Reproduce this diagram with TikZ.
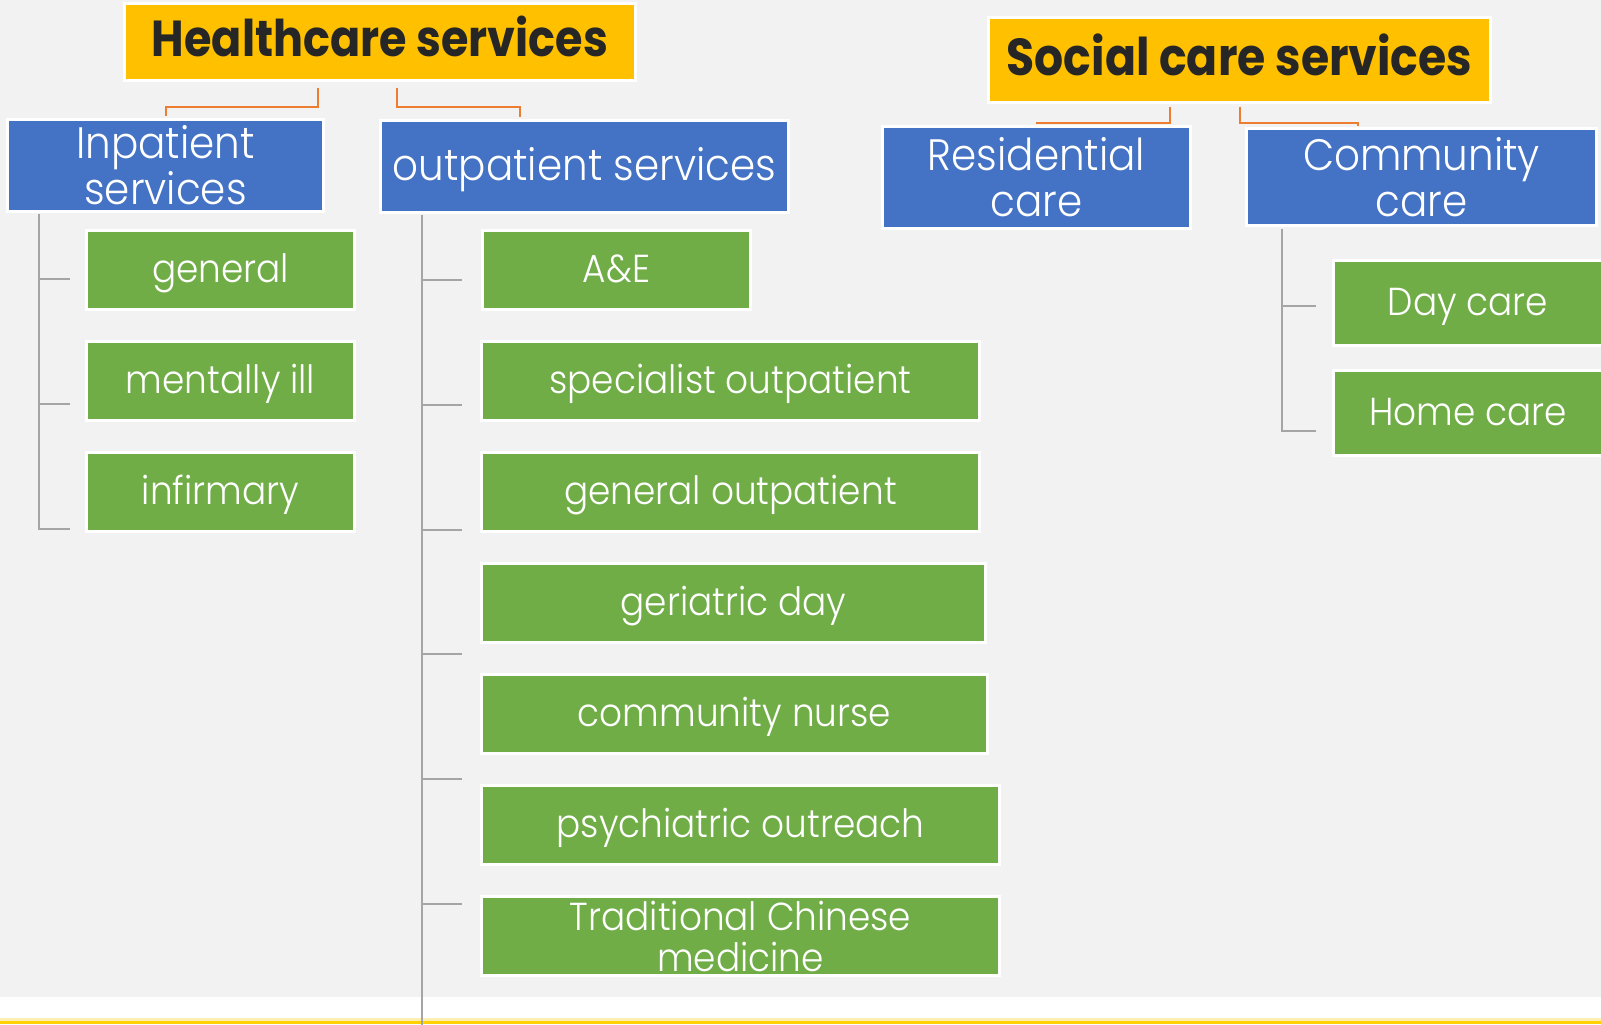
\documentclass[tikz,border=0pt]{standalone}
\usepackage{fontspec}
\setmainfont{Poppins Light}[FakeStretch=0.92]
\newfontfamily\titlefont{Poppins}[FakeStretch=0.88]
\usetikzlibrary{calc}
\definecolor{bgc}{HTML}{F2F2F2}
\definecolor{yelbox}{HTML}{FFC000}
\definecolor{bluebox}{HTML}{4472C4}
\definecolor{greenbox}{HTML}{70AD47}
\definecolor{orc}{HTML}{ED7D31}
\definecolor{gryc}{HTML}{A5A5A5}
\definecolor{darktext}{HTML}{262626}
\definecolor{bandyel}{HTML}{FFD200}
\definecolor{paleyel}{HTML}{FFEFB0}
\tikzset{
  wh/.style 2 args={minimum width=#1*0.5pt+1.5pt, minimum height=#2*0.5pt+1.5pt},
  basebox/.style={draw=white, line width=1.5pt, inner sep=0pt, outer sep=0pt, align=center, text=white},
  titlebox/.style={basebox, fill=yelbox, text=darktext},
  bluenode/.style={basebox, fill=bluebox, font=\fontsize{22}{23}\selectfont},
  greennode/.style={basebox, fill=greenbox, font=\fontsize{19.5}{20.5}\selectfont},
  oneline/.style={text height=#1, text depth=2pt},
  orline/.style={draw=orc, line width=1pt},
  gline/.style={draw=gryc, line width=1pt},
}
\begin{document}
\begin{tikzpicture}[x=0.5pt,y=-0.5pt]
\fill[bgc] (0,0) rectangle (1601,997);
\fill[white] (0,997) rectangle (1601,1018);
\fill[paleyel] (0,1018) rectangle (1601,1020.5);
\fill[bandyel] (0,1020.5) rectangle (1601,1024);
\useasboundingbox (0,0) rectangle (1601,1024);

% titles
\node[titlebox, wh={508}{74}, oneline=16.5pt, font=\titlefont\bfseries\fontsize{25.3}{27}\selectfont] (hc) at (380,42) {Healthcare services};
\node[titlebox, wh={499}{82}, oneline=17.5pt, font=\titlefont\bfseries\fontsize{26}{28}\selectfont] (sc) at (1239.5,60) {Social care services};

% second level
\node[bluenode, wh={313}{89}] (inp) at (165.5,165.5) {Inpatient\\services};
\node[bluenode, wh={405}{89}, oneline=15.5pt] (outp) at (584.5,166.5) {outpatient services};
\node[bluenode, wh={305}{99}] (res) at (1036.5,177.5) {Residential\\care};
\node[bluenode, wh={347}{94}] (com) at (1421.5,177) {Community\\care};

% inpatient children
\node[greennode, wh={265}{76}, oneline=14pt] (g1) at (220.5,270) {general};
\node[greennode, wh={265}{76}, oneline=14pt] (g2) at (220.5,381) {mentally ill};
\node[greennode, wh={265}{76}, oneline=14pt] (g3) at (220.5,492) {infirmary};

% outpatient children
\node[greennode, wh={265}{76}, oneline=14pt] (o1) at (616.5,270) {A\&E};
\node[greennode, wh={495}{76}, oneline=14pt] (o2) at (730.5,381) {specialist outpatient};
\node[greennode, wh={495}{76}, oneline=14pt] (o3) at (730.5,492) {general outpatient};
\node[greennode, wh={501}{76}, oneline=14pt] (o4) at (733.5,603) {geriatric day};
\node[greennode, wh={503}{76}, oneline=14pt] (o5) at (734.5,714) {community nurse};
\node[greennode, wh={515}{76}, oneline=14pt] (o6) at (740.5,825) {psychiatric outreach};
\node[greennode, wh={515}{76}] (o7) at (740.5,936) {Traditional Chinese\\medicine};

% community children
\node[greennode, wh={266}{82}, oneline=14pt] (c1) at (1468,303) {Day care};
\node[greennode, wh={266}{82}, oneline=14pt] (c2) at (1468,413) {Home care};

% orange connectors
\draw[orline] ([shift={(-62,7)}]hc.south) -- ++(0,19) -| ([shift={(0,-4)}]inp.north);
\draw[orline] ([shift={(17,7)}]hc.south) -- ++(0,19) -| ([shift={(-64.5,-4)}]outp.north);
\draw[orline] ([shift={(-69.5,4)}]sc.south) -- ++(0,16) -| ([shift={(0,-3)}]res.north);
\draw[orline] ([shift={(0,4)}]sc.south) -- ++(0,16) -| ([shift={(-63.5,-3)}]com.north);

% gray trees
\draw[gline] ([shift={(-126.5,2)}]inp.south) coordinate (ia) -- ++(0,315) -- ++(31,0);
\draw[gline] ($(ia)+(0,65)$) -- ++(31,0);
\draw[gline] ($(ia)+(0,190)$) -- ++(31,0);

\draw[gline] ([shift={(-163,2)}]outp.south) coordinate (oa) -- ++(0,813);
\foreach \dy in {65,190,315,439,564,689}
  \draw[gline] ($(oa)+(0,\dy)$) -- ++(40,0);

\draw[gline] ([shift={(-139.5,3)}]com.south) coordinate (ca) -- ++(0,202) -- ++(34,0);
\draw[gline] ($(ca)+(0,77)$) -- ++(34,0);
\end{tikzpicture}
\end{document}
